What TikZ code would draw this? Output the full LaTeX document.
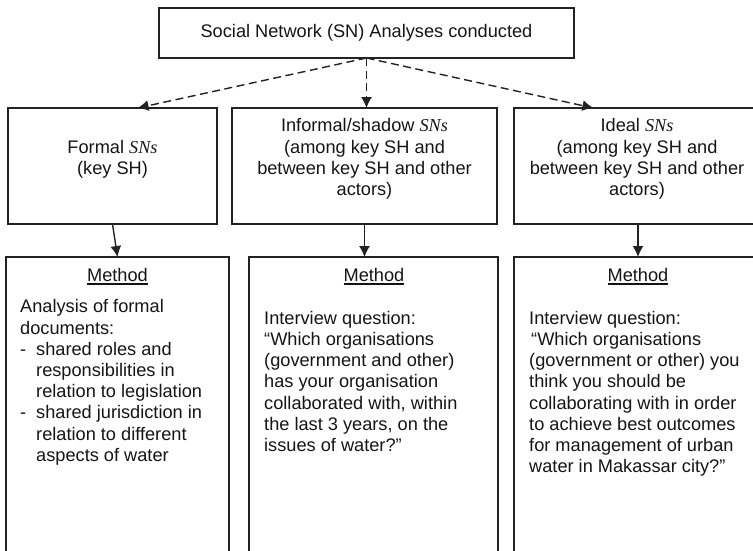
\documentclass[tikz,border=0pt]{standalone}
\usepackage{fontspec}
\setmainfont{Liberation Sans}
\newfontfamily\snfont{Liberation Serif}
\usetikzlibrary{arrows.meta,calc}
\definecolor{lc}{HTML}{222222}
\definecolor{tc}{HTML}{151515}
\newcommand\dsh{\makebox[16pt][l]{-}}
\newcommand\ind{\hspace*{16pt}}
\newcommand\sns{{\snfont\itshape SNs}}
\newcommand\myul[1]{\leavevmode\setbox0=\hbox{#1}\rlap{\rule[-3.5pt]{\wd0}{1.4pt}}\box0}
\begin{document}
\begin{tikzpicture}[x=1pt,y=-1pt,
  box/.style={draw=lc, line width=1.3pt, anchor=north west, inner sep=0pt, outer sep=0pt},
  txt/.style={text=tc, inner sep=0pt, font=\fontsize{18.2}{21.2}\selectfont},
  dasharrow/.style={draw=lc, line width=1.4pt, dash pattern=on 8pt off 4.5pt, -{Latex[length=11pt,width=11pt]}},
  solidarrow/.style={draw=lc, line width=1.4pt, -{Latex[length=11pt,width=11pt]}}]
\clip (0,0) rectangle (753,550);
% boxes
\node[box, minimum width=415pt, minimum height=50pt] (top) at (159,8) {};
\node[box, minimum width=209pt, minimum height=116pt] (formal) at (8,108) {};
\node[box, minimum width=265pt, minimum height=116pt] (informal) at (232,108) {};
\node[box, minimum width=248pt, minimum height=116pt] (ideal) at (514,108) {};
\node[box, minimum width=223pt, minimum height=330pt] (m1) at (6,257) {};
\node[box, minimum width=249pt, minimum height=330pt] (m2) at (249,257) {};
\node[box, minimum width=248pt, minimum height=330pt] (m3) at (514,257) {};
% texts
\node[txt] (ttop) at (top.center) {Social Network (SN) Analyses conducted};
\node[txt, align=center] (tformal) at (112.5,159) {Formal \sns\\(key SH)};
\node[txt, align=center] (tinformal) at (364.5,159) {Informal/shadow \sns\\(among key SH and\\between key SH and other\\actors)};
\node[txt, align=center] (tideal) at (637,159) {Ideal \sns\\(among key SH and\\between key SH and other\\actors)};
\node[txt, anchor=base] (mt1) at (117.5,281) {\myul{Method}};
\node[txt, anchor=base] (mt2) at (374,281) {\myul{Method}};
\node[txt, anchor=base] (mt3) at (638,281) {\myul{Method}};
\node[txt, align=left, anchor=north west] (b1) at (20,299.5) {Analysis of formal\\documents:\\\dsh shared roles and\\\ind responsibilities in\\\ind relation to legislation\\\dsh shared jurisdiction in\\\ind relation to different\\\ind aspects of water};
\node[txt, align=left, anchor=north west] (b2) at (264,311) {Interview question:\\“Which organisations\\(government and other)\\has your organisation\\collaborated with, within\\the last 3 years, on the\\issues of water?”};
\node[txt, align=left, anchor=north west] (b3) at (529,311) {Interview question:\\\hspace*{2pt}“Which organisations\\(government or other) you\\think you should be\\collaborating with in order\\to achieve best outcomes\\for management of urban\\water in Makassar city?”};
% connectors
\draw[dasharrow] (top.south) -- ($(formal.north west)!0.62!(formal.north east)$);
\draw[dasharrow] (top.south) -- (top.south |- informal.north);
\draw[dasharrow] (top.south) -- ($(ideal.north west)!0.32!(ideal.north east)$);
\draw[solidarrow] (formal.south) -- (m1.north);
\draw[solidarrow] (informal.south) -- (informal.south |- m2.north);
\draw[solidarrow] (ideal.south) -- (m3.north);
\end{tikzpicture}
\end{document}
